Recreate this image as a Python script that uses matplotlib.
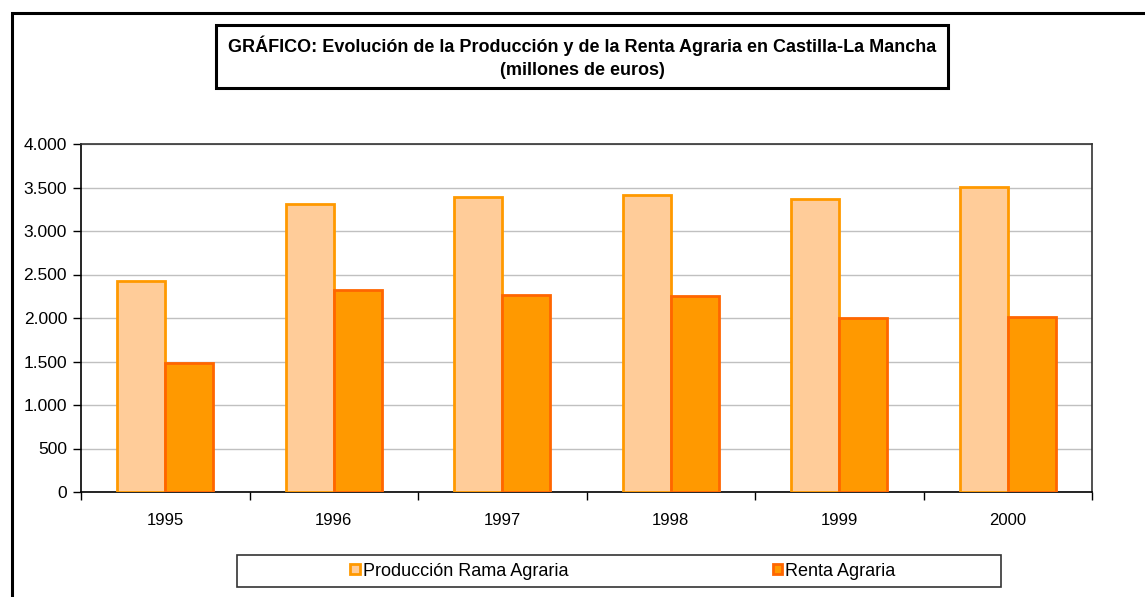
import matplotlib.pyplot as plt
import numpy as np
from matplotlib.patches import Rectangle
from matplotlib.ticker import FuncFormatter

plt.rcParams['font.family'] = ['Liberation Sans', 'DejaVu Sans']

# =====================================
# DATA (millones de euros)
# =====================================
years = ["1995", "1996", "1997", "1998", "1999", "2000"]
produccion = [2430, 3315, 3395, 3415, 3370, 3505]
renta = [1485, 2325, 2265, 2250, 2000, 2015]

W, H = 1145, 597
fig = plt.figure(figsize=(W / 100, H / 100), dpi=100)

# outer frame (cut off at right and bottom)
fig.patches.append(Rectangle((12 / W, -0.05), 1.2, (H - 13) / H + 0.05,
                             transform=fig.transFigure, fill=False,
                             edgecolor="black", linewidth=2.2))

# =====================================
# AXES
# =====================================
ax = fig.add_axes([81 / W, (H - 492) / H, (1092 - 81) / W, (492 - 144) / H])
x = np.arange(len(years))
bw = 0.285
ax.bar(x - bw / 2, produccion, bw, color="#FFCC99", edgecolor="#FF9900",
       linewidth=2, label="Producción Rama Agraria", zorder=3)
ax.bar(x + bw / 2, renta, bw, color="#FF9900", edgecolor="#FF6600",
       linewidth=2, label="Renta Agraria", zorder=3)

ax.set_xlim(-0.5, len(years) - 0.5)
ax.set_ylim(0, 4000)
ax.set_yticks(range(0, 4001, 500))
ax.yaxis.set_major_formatter(FuncFormatter(lambda v, p: f"{int(v):,}".replace(",", ".")))
ax.set_xticks(x)
ax.set_xticklabels(years)
ax.set_xticks(np.arange(-0.5, len(years), 1), minor=True)
ax.tick_params(axis="x", which="major", length=0, pad=15, labelsize=12)
ax.tick_params(axis="x", which="minor", length=6, width=1, direction="out")
ax.tick_params(axis="y", length=6, width=1, direction="out", labelsize=12.5, pad=4)
ax.grid(axis="y", color="#C0C0C0", linewidth=1, zorder=0)
for s in ["left", "bottom"]:
    ax.spines[s].set_color("black")
    ax.spines[s].set_linewidth(1.2)
for s in ["top", "right"]:
    ax.spines[s].set_color("#333333")
    ax.spines[s].set_linewidth(1.2)

# =====================================
# TITLE BOX
# =====================================
fig.patches.append(Rectangle((216 / W, (H - 88) / H), (948 - 216) / W, 63 / H,
                             transform=fig.transFigure, fill=False,
                             edgecolor="black", linewidth=2.2))
fig.text(582 / W, (H - 57) / H,
         "GRÁFICO: Evolución de la Producción y de la Renta Agraria en Castilla-La Mancha\n(millones de euros)",
         ha="center", va="center", fontsize=13, fontweight="bold", linespacing=1.45)

# =====================================
# LEGEND
# =====================================
fig.patches.append(Rectangle((237 / W, (H - 587) / H), (1001 - 237) / W, 32 / H,
                             transform=fig.transFigure, fill=False,
                             edgecolor="#333333", linewidth=1.2))
handles, labels = ax.get_legend_handles_labels()
fig.legend(handles, labels, loc="center", bbox_to_anchor=(623 / W, (H - 571) / H),
           ncol=2, frameon=False, fontsize=13, handlelength=0.5, handleheight=0.5,
           handletextpad=0.2, columnspacing=11.3, borderpad=0, borderaxespad=0)

fig.savefig("out.png", dpi=100)
